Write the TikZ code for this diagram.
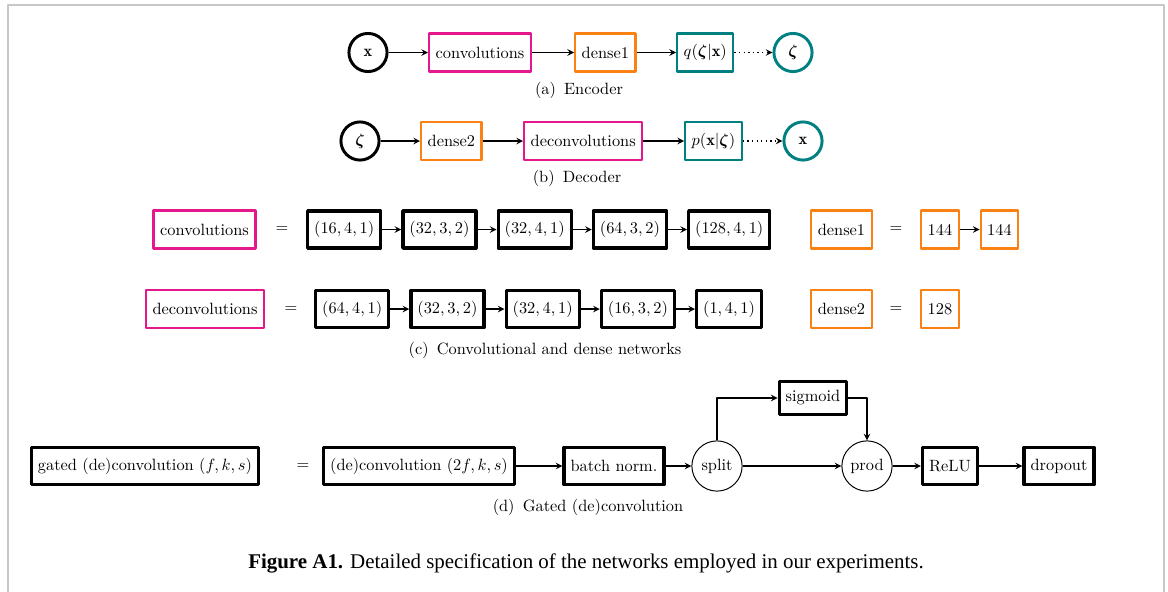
\documentclass[tikz,border=0pt]{standalone}
\usepackage{amsmath}
\usepackage{fontspec}
\newfontfamily\capfont{Liberation Serif}
\definecolor{vaemag}{RGB}{228,24,140}
\definecolor{vaeorg}{RGB}{250,130,20}
\definecolor{vaeteal}{RGB}{0,128,128}
\begin{document}
\begin{tikzpicture}[x=0.0215cm, y=-0.0215cm, line join=round, >=stealth]
\tikzset{box/.style={draw, rectangle, line width=1.4pt, inner xsep=4pt, minimum height=0.82cm},
  blk/.style={box, line width=2pt, minimum height=0.8cm},
  conv/.style={box, draw=vaemag}, dns/.style={box, draw=vaeorg}, dist/.style={box, draw=vaeteal},
  var/.style={draw, circle, line width=1.8pt, minimum size=0.82cm, inner sep=0pt},
  op/.style={draw, circle, line width=0.6pt, minimum size=1.08cm, inner sep=0pt},
  arr/.style={->, line width=0.8pt}}
\useasboundingbox (0,0) rectangle (1168,592);
\draw[line width=1.2pt, black!22] (8,600)--(8,5)--(1164,5)--(1164,600);
\def\ya{52.5}\def\yb{141}\def\yc{229.5}\def\yd{309}\def\ye{466}
% (a) encoder
\node[var] (xa) at (368,\ya) {$\mathbf{x}$};
\node[conv, anchor=west] (enc) at (428,\ya) {convolutions};
\node[dns, anchor=west] (da) at (574,\ya) {dense1};
\node[dist, anchor=west] (qa) at (676,\ya) {$q(\boldsymbol{\zeta}|\mathbf{x})$};
\node[var, draw=vaeteal] (za) at (793,\ya) {$\boldsymbol{\zeta}$};
\draw[arr] (xa)--(enc); \draw[arr] (enc)--(da); \draw[arr] (da)--(qa);
\draw[arr, dotted] (qa)--(za);
\node (capa) at (579,90) {(a)\enspace Encoder};
% (b) decoder
\node[var] (zb) at (360,\yb) {$\boldsymbol{\zeta}$};
\node[dns, anchor=west] (db) at (420,\yb) {dense2};
\node[conv, anchor=west] (dec) at (523,\yb) {deconvolutions};
\node[dist, anchor=west] (pb) at (684,\yb) {$p(\mathbf{x}|\boldsymbol{\zeta})$};
\node[var, draw=vaeteal] (xb) at (803,\yb) {$\mathbf{x}$};
\draw[arr] (zb)--(db); \draw[arr] (db)--(dec); \draw[arr] (dec)--(pb);
\draw[arr, dotted] (pb)--(xb);
\node (capb) at (577,178) {(b)\enspace Decoder};
% (c) networks
\node[conv] (cv) at (204.5,\yc) {convolutions};
\node (eqa) at (282,\yc) {$=$};
\foreach \t [count=\i] in {{(16,4,1)},{(32,3,2)},{(32,4,1)},{(64,3,2)},{(128,4,1)}}
  \node[blk, anchor=west] (ca\i) at (306+95.25*\i-95.25,\yc) {$\t$};
\node[conv] (dcv) at (205,\yd) {deconvolutions};
\node (eqb) at (291,\yd) {$=$};
\foreach \t [count=\i] in {{(64,4,1)},{(32,3,2)},{(32,4,1)},{(16,3,2)},{(1,4,1)}}
  \node[blk, anchor=west] (cb\i) at (314+95.25*\i-95.25,\yd) {$\t$};
\foreach \i/\j in {1/2,2/3,3/4,4/5}{\draw[arr] (ca\i)--(ca\j); \draw[arr] (cb\i)--(cb\j);}
\node[dns] (dsa) at (841.5,\yc) {dense1};
\node (eqc) at (896,\yc) {$=$};
\node[dns] (ha) at (940,\yc) {144};
\node[dns] (hb) at (999.5,\yc) {144};
\draw[arr] (ha)--(hb);
\node[dns] (dsb) at (841.5,\yd) {dense2};
\node (eqd) at (896,\yd) {$=$};
\node[dns] (hc) at (940,\yd) {128};
\node (capc) at (545,350) {(c)\enspace Convolutional and dense networks};
% (d) gated (de)convolution
\node[blk] (gd) at (145,\ye) {gated (de)convolution $(f,k,s)$};
\node (eqe) at (303,\ye) {$=$};
\node[blk] (dc) at (419,\ye) {(de)convolution $(2f,k,s)$};
\node[blk] (bn) at (614,\ye) {batch norm.};
\node[op] (sp) at (717,\ye) {split};
\node[op] (pr) at (867,\ye) {prod};
\node[blk, minimum height=0.72cm] (sg) at (813,398) {sigmoid};
\node[blk] (re) at (950,\ye) {ReLU};
\node[blk] (dr) at (1059,\ye) {dropout};
\draw[arr] (dc)--(bn); \draw[arr] (bn)--(sp); \draw[arr] (sp)--(pr);
\draw[arr] (sp.north)|-(sg.west); \draw[arr] (sg.east)-|(pr.north);
\draw[arr] (pr)--(re); \draw[arr] (re)--(dr);
\node (capd) at (588,507) {(d)\enspace Gated (de)convolution};
\node (fig) at (586,563) {\capfont\fontsize{12.8}{15}\selectfont\textbf{Figure A1.} Detailed specification of the networks employed in our experiments.};
\end{tikzpicture}
\end{document}
